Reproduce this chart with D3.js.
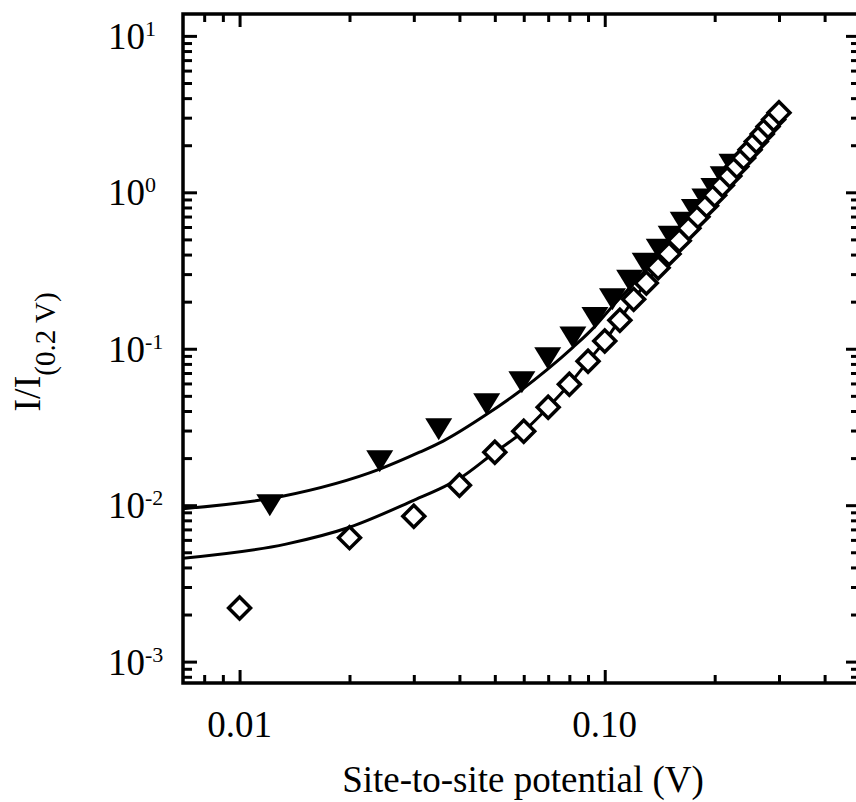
<!DOCTYPE html>
<html>
<head>
<meta charset="utf-8">
<script src="https://d3js.org/d3.v7.min.js"></script>
<style>
	body { margin: 0; background: #fff; }
	svg { display: block; }
</style>
</head>
<body>
<svg id="chart" width="856" height="802"></svg>
<script>

// open diamonds
var diamondX = [0.01, 0.02, 0.03, 0.04, 0.05, 0.06, 0.07, 0.08, 0.09, 0.10,
	0.11, 0.12, 0.13, 0.14, 0.15, 0.16, 0.17, 0.18, 0.19, 0.20,
	0.21, 0.22, 0.23, 0.24, 0.25, 0.26, 0.27, 0.28, 0.29, 0.30];
var diamondY = [0.0022, 0.0062, 0.0085, 0.0134, 0.0218, 0.0297, 0.0423, 0.0593, 0.0832, 0.112,
	0.152, 0.207, 0.263, 0.329, 0.404, 0.491, 0.589, 0.699, 0.822, 0.958,
	1.11, 1.27, 1.46, 1.66, 1.87, 2.11, 2.36, 2.63, 2.92, 3.23];

// filled down triangles
var triX = [0.0121, 0.0242, 0.0351, 0.0475, 0.0593, 0.0698, 0.0818, 0.094, 0.105, 0.117,
	0.129, 0.141, 0.152, 0.164, 0.176, 0.188, 0.199, 0.211, 0.223];
var triY = [0.0100, 0.0191, 0.0306, 0.0442, 0.0611, 0.0869, 0.118, 0.157, 0.207, 0.272,
	0.35, 0.43, 0.52, 0.64, 0.77, 0.90, 1.05, 1.25, 1.50];

// fitted curves
var fitTriX = [0.007, 0.0131, 0.0242, 0.0311, 0.036, 0.0475, 0.0585, 0.0698, 0.0818, 0.094,
	0.105, 0.117, 0.141, 0.164, 0.188, 0.211, 0.224];
var fitTriY = [0.0095, 0.0114, 0.0170, 0.0218, 0.0256, 0.0381, 0.0535, 0.0740, 0.102, 0.139,
	0.187, 0.245, 0.40, 0.60, 0.86, 1.20, 1.45];
var fitDiaX = [0.007, 0.0134, 0.02, 0.0304, 0.036, 0.04, 0.05, 0.06, 0.07, 0.08,
	0.09, 0.10, 0.12, 0.15, 0.20, 0.25, 0.30];
var fitDiaY = [0.00458, 0.00564, 0.00723, 0.0109, 0.0130, 0.0148, 0.0218, 0.0297, 0.0423, 0.0593,
	0.0832, 0.112, 0.207, 0.404, 0.958, 1.87, 3.23];

// ticks
var xMajor = [0.01, 0.1];
var xLabels = ["0.01", "0.10"];
var xMinor = [0.008, 0.009, 0.02, 0.03, 0.04, 0.05, 0.06, 0.07, 0.08, 0.09, 0.2, 0.3, 0.4];
var yMajor = [1e-3, 1e-2, 1e-1, 1, 10];
var yExp = ["-3", "-2", "-1", "0", "1"];

(function() {

	var yMinor = [8e-4, 9e-4];
	[1e-3, 1e-2, 1e-1, 1].forEach(function(d) {
		for (var k = 2; k <= 9; k++) yMinor.push(d * k);
	});

	var plot = {left: 183, right: 860, top: 14, bottom: 683};

	var x = d3.scaleLog().domain([0.007, 0.5]).range([plot.left, plot.right]);
	var y = d3.scaleLog().domain([7.3e-4, 13.8]).range([plot.bottom, plot.top]);

	var svg = d3.select("#chart");
	var font = "'Liberation Serif', 'Times New Roman', serif";

	function ticks(g, axis, vals, len) {
		g.call(axis.tickValues(vals).tickSize(-len).tickFormat(""));
		g.select(".domain").remove();
		g.selectAll(".tick line").attr("stroke", "#000").attr("stroke-width", 3);
	}

	var bt = "translate(0," + plot.bottom + ")",
		tt = "translate(0," + plot.top + ")",
		lt = "translate(" + plot.left + ",0)",
		rt = "translate(" + plot.right + ",0)";

	ticks(svg.append("g").attr("transform", bt), d3.axisBottom(x), xMajor, 13);
	ticks(svg.append("g").attr("transform", bt), d3.axisBottom(x), xMinor, 8);
	ticks(svg.append("g").attr("transform", tt), d3.axisTop(x), xMajor, 13);
	ticks(svg.append("g").attr("transform", tt), d3.axisTop(x), xMinor, 8);
	ticks(svg.append("g").attr("transform", lt), d3.axisLeft(y), yMajor, 14);
	ticks(svg.append("g").attr("transform", lt), d3.axisLeft(y), yMinor, 9);
	ticks(svg.append("g").attr("transform", rt), d3.axisRight(y), yMajor, 14);
	ticks(svg.append("g").attr("transform", rt), d3.axisRight(y), yMinor, 9);

	svg.append("rect")
		.attr("x", plot.left).attr("y", plot.top)
		.attr("width", plot.right - plot.left).attr("height", plot.bottom - plot.top)
		.attr("fill", "none").attr("stroke", "#000").attr("stroke-width", 3.5);

	// x tick labels
	svg.selectAll(".xlab")
		.data(xMajor)
		.enter().append("text")
		.attr("class", "xlab")
		.attr("x", function(d) { return x(d); })
		.attr("y", plot.bottom + 54)
		.attr("text-anchor", "middle")
		.style("font-family", font).style("font-size", "37px")
		.text(function(d, i) { return xLabels[i]; });

	// y tick labels 10^n
	var ylab = svg.selectAll(".ylab")
		.data(yMajor)
		.enter().append("text")
		.attr("class", "ylab")
		.attr("x", 108)
		.attr("y", function(d) { return y(d) + 13; })
		.style("font-family", font).style("font-size", "37px");
	ylab.append("tspan").text("10");
	ylab.append("tspan")
		.attr("dy", -13)
		.style("font-size", "22px")
		.text(function(d, i) { return yExp[i]; });

	// axis titles
	svg.append("text")
		.attr("x", 523).attr("y", 792)
		.attr("text-anchor", "middle")
		.style("font-family", font).style("font-size", "37px")
		.text("Site-to-site potential (V)");

	var yt = svg.append("text")
		.attr("transform", "translate(40,352) rotate(-90)")
		.attr("text-anchor", "middle")
		.style("font-family", font).style("font-size", "38px");
	yt.append("tspan").text("I/I");
	yt.append("tspan").attr("dy", 15).style("font-size", "29px").text("(0.2 V)");

	// curves
	var line = d3.line()
		.x(function(d) { return x(d[0]); })
		.y(function(d) { return y(d[1]); })
		.curve(d3.curveMonotoneX);

	[[fitTriX, fitTriY], [fitDiaX, fitDiaY]].forEach(function(s) {
		svg.append("path")
			.datum(s[0].map(function(v, i) { return [v, s[1][i]]; }))
			.attr("d", line)
			.attr("fill", "none")
			.attr("stroke", "#000")
			.attr("stroke-width", 3);
	});

	// inverted triangle, centred on its bounding box
	var downTri = {
		draw: function(ctx, size) {
			var w = 13.5, h = 22;
			ctx.moveTo(-w, -h / 2);
			ctx.lineTo(w, -h / 2);
			ctx.lineTo(0, h / 2);
			ctx.closePath();
		}
	};

	svg.selectAll(".tri")
		.data(triX.map(function(v, i) { return [v, triY[i]]; }))
		.enter().append("path")
		.attr("class", "tri")
		.attr("d", d3.symbol().type(downTri))
		.attr("transform", function(d) { return "translate(" + x(d[0]) + "," + y(d[1]) + ")"; })
		.attr("fill", "#000");

	svg.selectAll(".dia")
		.data(diamondX.map(function(v, i) { return [v, diamondY[i]]; }))
		.enter().append("path")
		.attr("class", "dia")
		.attr("d", d3.symbol().type(d3.symbolSquare).size(240))
		.attr("transform", function(d) { return "translate(" + x(d[0]) + "," + y(d[1]) + ") rotate(45)"; })
		.attr("fill", "#fff")
		.attr("stroke", "#000")
		.attr("stroke-width", 3.5);

})();

</script>
</body>
</html>
